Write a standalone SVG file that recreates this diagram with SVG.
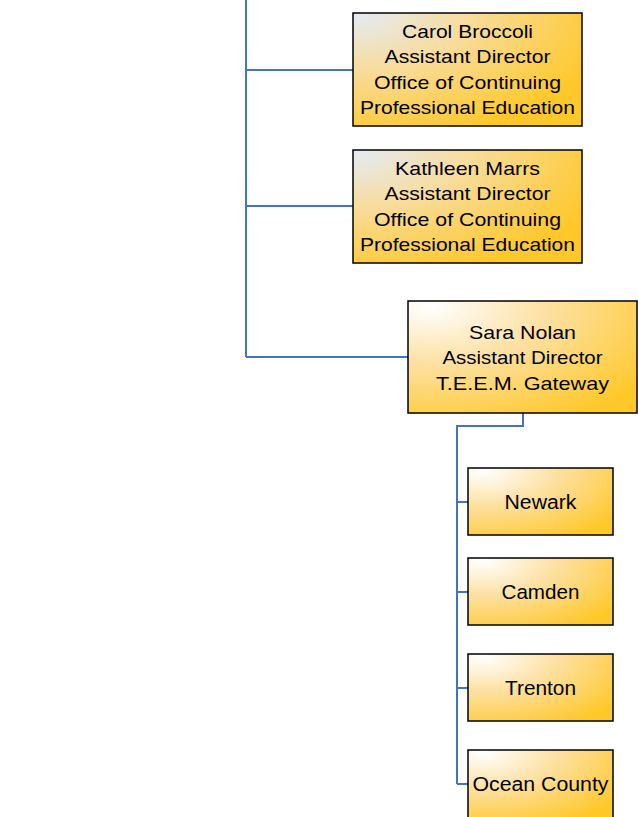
<svg xmlns="http://www.w3.org/2000/svg" width="638" height="817" viewBox="0 0 638 817">
<defs>
<radialGradient id="gb" cx="0" cy="0" r="1.15" fx="0" fy="0">
<stop offset="0" stop-color="#e4ebf6"/>
<stop offset="0.45" stop-color="#f8dc9a"/>
<stop offset="1" stop-color="#ffc829"/>
</radialGradient>
<radialGradient id="gw" cx="0.1" cy="0.05" r="1.15" fx="0.1" fy="0.05">
<stop offset="0" stop-color="#ffffff"/>
<stop offset="0.45" stop-color="#fde0a0"/>
<stop offset="1" stop-color="#ffc829"/>
</radialGradient>
</defs>
<style>
.box{stroke:#000;stroke-width:1.5}
.b{fill:url(#gb)}
.w{fill:url(#gw)}
text{font-family:"Liberation Sans",Arial,sans-serif;font-size:19px;fill:#000;text-anchor:middle}
.s{font-size:20.5px}
.c{fill:none;stroke:#4472c4;stroke-width:2}
</style>
<g id="connectors">
<path class="c" d="M246 0V357M246 70H353M246 206H353M246 357H408"/>
<path class="c" d="M523 413V426H457V784M457 502H468M457 592H468M457 688H468M457 784H468"/>
</g>
<g id="carol">
<rect class="box b" x="353" y="13" width="229" height="113"/>
<text x="467.5" y="38" textLength="131" lengthAdjust="spacingAndGlyphs">Carol Broccoli</text>
<text x="467.5" y="63" textLength="166" lengthAdjust="spacingAndGlyphs">Assistant Director</text>
<text x="467.5" y="89" textLength="187" lengthAdjust="spacingAndGlyphs">Office of Continuing</text>
<text x="467.5" y="114" textLength="215" lengthAdjust="spacingAndGlyphs">Professional Education</text>
</g>
<g id="kathleen">
<rect class="box b" x="353" y="150" width="229" height="113"/>
<text x="467.5" y="175" textLength="145" lengthAdjust="spacingAndGlyphs">Kathleen Marrs</text>
<text x="467.5" y="200" textLength="166" lengthAdjust="spacingAndGlyphs">Assistant Director</text>
<text x="467.5" y="226" textLength="187" lengthAdjust="spacingAndGlyphs">Office of Continuing</text>
<text x="467.5" y="251" textLength="215" lengthAdjust="spacingAndGlyphs">Professional Education</text>
</g>
<g id="sara">
<rect class="box w" x="408" y="301" width="229" height="112"/>
<text x="522.5" y="339" textLength="107" lengthAdjust="spacingAndGlyphs">Sara Nolan</text>
<text x="522.5" y="364" textLength="160" lengthAdjust="spacingAndGlyphs">Assistant Director</text>
<text x="522.5" y="390" textLength="173" lengthAdjust="spacingAndGlyphs">T.E.E.M. Gateway</text>
</g>
<g id="newark">
<rect class="box w" x="468" y="468" width="145" height="67"/>
<text class="s" x="540.5" y="509" textLength="72" lengthAdjust="spacingAndGlyphs">Newark</text>
</g>
<g id="camden">
<rect class="box w" x="468" y="558" width="145" height="67"/>
<text class="s" x="540.5" y="599" textLength="78" lengthAdjust="spacingAndGlyphs">Camden</text>
</g>
<g id="trenton">
<rect class="box w" x="468" y="654" width="145" height="67"/>
<text class="s" x="540.5" y="695" textLength="71" lengthAdjust="spacingAndGlyphs">Trenton</text>
</g>
<g id="ocean">
<rect class="box w" x="468" y="750" width="145" height="68"/>
<text class="s" x="540.5" y="791" textLength="136" lengthAdjust="spacingAndGlyphs">Ocean County</text>
</g>
</svg>
